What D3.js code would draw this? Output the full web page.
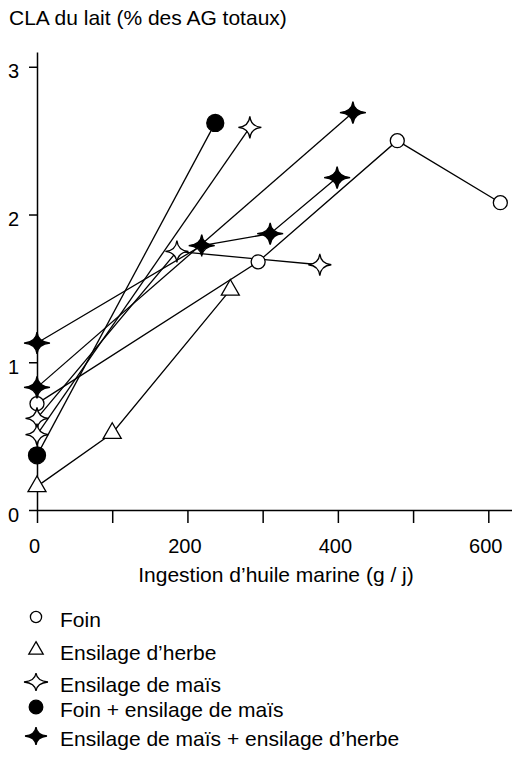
<!DOCTYPE html>
<meta http-equiv="Content-type" content="text/html; charset=UTF-8"/>
<style>body { margin: 0 } * { font-family: 'Liberation Sans', Arial, sans-serif }</style>
<svg width="512" height="759"></svg>
<script src="https://d3js.org/d3.v7.min.js"></script>
<script>
// legend / groups
var groupNames = ["Foin", "Ensilage d\u2019herbe", "Ensilage de maïs",
                  "Foin + ensilage de maïs", "Ensilage de maïs + ensilage d\u2019herbe"];

// each experiment: [ingestion g/j, CLA %]
var foin       = [[0, 0.72], [294, 1.68], [479, 2.50], [616, 2.08]];
var ensHerbe   = [[0, 0.16], [100, 0.52], [257, 1.49]];
var ensMais1   = [[0, 0.62], [186, 1.75], [376, 1.66]];
var ensMais2   = [[0, 0.51], [283, 2.59]];
var foinMais   = [[0, 0.37], [237, 2.62]];
var maisHerbe1 = [[0, 1.13], [219, 1.79], [310, 1.87], [399, 2.25]];
var maisHerbe2 = [[0, 0.83], [420, 2.69]];

var xTicks = [0, 100, 200, 300, 400, 500, 600];
var xTickLabels = ["0", "", "200", "", "400", "", "600"];
var yTicks = [0, 1, 2, 3];

var lines = [
  {g: 0, pts: foin}, {g: 1, pts: ensHerbe}, {g: 2, pts: ensMais1}, {g: 2, pts: ensMais2},
  {g: 3, pts: foinMais}, {g: 4, pts: maisHerbe1}, {g: 4, pts: maisHerbe2}
];

var svg = d3.select("svg");

var x = d3.scaleLinear().domain([0, 631.5]).range([37, 512]);
var y = d3.scaleLinear().domain([0, 3.1]).range([510, 52]);

function star4(rx, ry, k) {
  return "M0," + (-ry) + "Q" + k + "," + (-k) + " " + rx + ",0" +
         "Q" + k + "," + k + " 0," + ry +
         "Q" + (-k) + "," + k + " " + (-rx) + ",0" +
         "Q" + (-k) + "," + (-k) + " 0," + (-ry) + "Z";
}
function tri(s) {
  var h = s * Math.sqrt(3) / 2;
  return "M0," + (-h * 2 / 3) + "L" + (s / 2) + "," + (h / 3) + "L" + (-s / 2) + "," + (h / 3) + "Z";
}

function marker(sel, g, cx, cy, small) {
  var k = small ? 0.8 : 1;
  var m;
  if (g == 0) m = sel.append("circle").attr("r", 7 * k).attr("fill", "#fff");
  else if (g == 3) m = sel.append("circle").attr("r", 8.5 * k).attr("fill", "#000");
  else if (g == 1) m = sel.append("path").attr("d", tri(18 * k)).attr("fill", "#fff");
  else if (g == 2) m = sel.append("path").attr("d", small ? star4(12, 9, 1) : star4(11.5, 11, 1)).attr("fill", "#fff");
  else m = sel.append("path").attr("d", small ? star4(11, 9, 1) : star4(13, 11, 1)).attr("fill", "#000");
  m.attr("stroke", "#000").attr("stroke-width", 1.3);
  if (m.node().tagName == "circle") m.attr("cx", cx).attr("cy", cy);
  else m.attr("transform", "translate(" + cx + "," + cy + ")");
}

// axes
var xAxis = svg.append("g")
    .attr("transform", "translate(0," + y(0) + ")")
    .call(d3.axisBottom(x).tickValues(xTicks).tickSize(13).tickSizeOuter(0)
      .tickFormat(function(d, i) { return xTickLabels[i]; }));
xAxis.selectAll("text").attr("dx", -3).attr("dy", 0).attr("y", 43);

var yAxis = svg.append("g")
    .attr("transform", "translate(" + x(0) + ",0)")
    .call(d3.axisLeft(y).tickValues(yTicks).tickSize(8).tickSizeOuter(0).tickFormat(d3.format("d")));
yAxis.selectAll("text").attr("x", -18).attr("dy", 11);

svg.selectAll(".domain, .tick line").attr("stroke", "#000").attr("stroke-width", 1.5);
svg.selectAll(".tick text").attr("fill", "#000").style("font-size", "20px")
   .style("font-family", "'Liberation Sans', Arial, sans-serif");

// lines
var line = d3.line().x(function(d) { return x(d[0]); }).y(function(d) { return y(d[1]); });
svg.append("g").selectAll("path")
  .data(lines)
  .join("path")
    .attr("d", function(d) { return line(d.pts); })
    .attr("fill", "none")
    .attr("stroke", "#000")
    .attr("stroke-width", 1.3);

// markers
var mg = svg.append("g");
lines.forEach(function(l) {
  l.pts.forEach(function(p) { marker(mg, l.g, x(p[0]), y(p[1]), false); });
});

// titles
svg.append("text")
    .attr("x", 9).attr("y", 25)
    .style("font-size", "21px")
    .text("CLA du lait (% des AG totaux)");

svg.append("text")
    .attr("x", 276).attr("y", 582)
    .attr("text-anchor", "middle")
    .style("font-size", "21px")
    .text("Ingestion d\u2019huile marine (g / j)");

// legend
var legendY = [627, 660, 692, 717, 746];
var lg = svg.append("g");
groupNames.forEach(function(name, i) {
  marker(lg, i, 36, legendY[i] - 10, true);
  lg.append("text")
      .attr("x", 60).attr("y", legendY[i])
      .style("font-size", "21px")
      .text(name);
});
</script>
